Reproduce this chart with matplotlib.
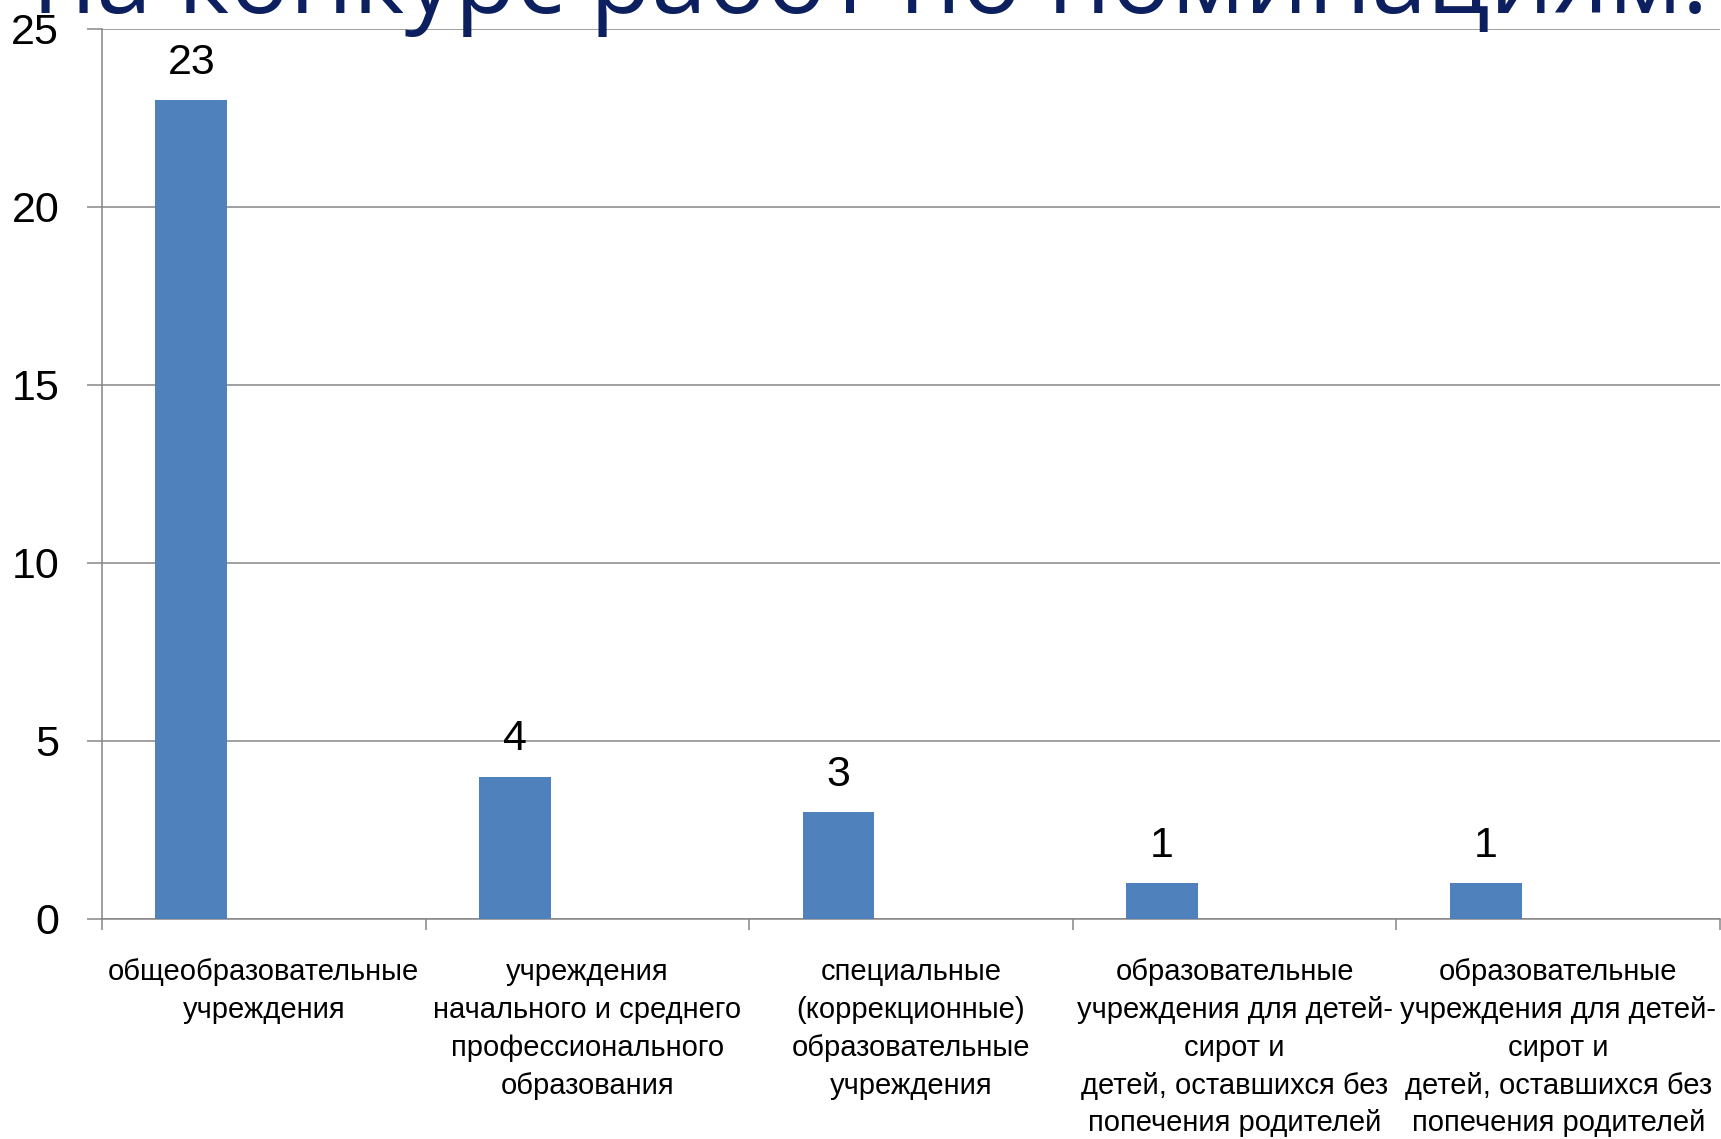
import matplotlib
matplotlib.use("Agg")
import matplotlib.pyplot as plt
import numpy as np

categories = [
    "общеобразовательные\nучреждения",
    "учреждения\nначального и среднего\nпрофессионального\nобразования",
    "специальные\n(коррекционные)\nобразовательные\nучреждения",
    "образовательные\nучреждения для детей-\nсирот и\nдетей, оставшихся без\nпопечения родителей",
    "образовательные\nучреждения для детей-\nсирот и\nдетей, оставшихся без\nпопечения родителей",
]
values = [23, 4, 3, 1, 1]
y_ticks = [0, 5, 10, 15, 20, 25]
title_text = "на конкурс работ по номинациям:"

FONT = ["Liberation Sans", "DejaVu Sans"]
plt.rcParams["font.family"] = FONT

W, H = 1721, 1139
fig = plt.figure(figsize=(W / 100, H / 100), dpi=100)
ax = fig.add_axes([102 / W, 1 - 919 / H, (1720 - 102) / W, (919 - 29) / H])

x = np.arange(len(values))
bars = ax.bar(x - 0.224, values, width=0.222, color="#4F81BD", zorder=3)

ax.set_xlim(-0.5, len(values) - 0.5)
ax.set_ylim(0, 25)
ax.set_yticks(y_ticks)
ax.set_yticklabels([str(t) for t in y_ticks])
ax.yaxis.grid(True, color="#868686", linewidth=1.1, zorder=0)
ax.tick_params(axis="y", length=10.8, width=1.1, color="#868686", pad=20,
               labelsize=31, labelcolor="black")

ax.set_xticks(np.arange(len(values) + 1) - 0.5)
ax.set_xticklabels([])
ax.tick_params(axis="x", which="major", length=8, width=1.1, color="#868686")
ax.set_xticks(x, minor=True)
ax.set_xticklabels(categories, minor=True)
ax.tick_params(axis="x", which="minor", length=0, pad=28, labelsize=21,
               labelcolor="black")
for lbl in ax.get_xticklabels(minor=True):
    lbl.set_linespacing(1.45)

for s in ["top", "right"]:
    ax.spines[s].set_visible(False)
for s in ["left", "bottom"]:
    ax.spines[s].set_color("#868686")
    ax.spines[s].set_linewidth(1.1)

for b, v in zip(bars, values):
    ax.annotate(str(v), (b.get_x() + b.get_width() / 2, v),
                xytext=(0, 27), textcoords="offset points",
                ha="center", va="center", fontsize=31, color="black")

fig.text(33 / W, 1 - 13 / H, title_text, fontsize=72, color="#0c1f5e",
         ha="left", va="baseline", family=["Open Sans", "DejaVu Sans"])

fig.savefig("out.png", dpi=100)
